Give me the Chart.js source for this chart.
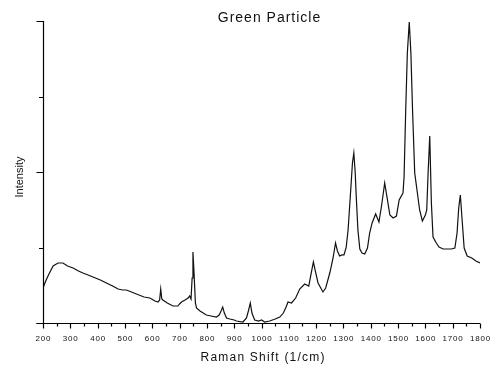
<!DOCTYPE html>
<html>
<head>
<meta charset="utf-8">
<script src="https://cdn.jsdelivr.net/npm/chart.js@4/dist/chart.umd.min.js"></script>
<style>
  html, body { margin: 0; padding: 0; background: #fff; }
  #wrap { width: 490px; height: 365px; position: relative; }
</style>
</head>
<body>
<div id="wrap"><canvas id="c"></canvas></div>
<script>
// Raman spectrum of the green particle (arbitrary intensity units)
const titleText = 'Green Particle';
const xTitle = 'Raman Shift (1/cm)';
const yTitle = 'Intensity';

const ramanShift = [
  200, 210, 220, 237, 255, 273, 290, 310, 330, 346, 365, 383, 410, 432, 455, 475,
  492, 505, 515, 542, 570, 591, 610, 621, 627, 631, 635, 639, 655, 676, 694, 700,
  707, 720, 731, 737, 742, 746, 749, 753, 758, 762, 775, 798, 815, 835, 845, 852,
  858, 864, 872, 884, 900, 908, 932, 945, 952, 959, 965, 975, 990, 1000, 1012, 1030,
  1050, 1067, 1080, 1090, 1097, 1110, 1125, 1140, 1158, 1173, 1182, 1190, 1197, 1207, 1215, 1225,
  1235, 1250, 1262, 1271, 1278, 1286, 1295, 1302, 1310, 1317, 1325, 1333, 1338, 1343, 1347, 1353,
  1360, 1368, 1378, 1388, 1396, 1405, 1418, 1430, 1440, 1451, 1460, 1470, 1482, 1494, 1504, 1518,
  1522, 1528, 1534, 1541, 1547, 1553, 1561, 1579, 1589, 1600, 1605, 1610, 1616, 1622, 1628, 1640,
  1650, 1665, 1680, 1695, 1708, 1716, 1722, 1728, 1734, 1742, 1753, 1770, 1785, 1800
];

const intensity = [
  464, 556, 636, 755, 795, 795, 755, 728, 689, 662, 636, 609, 570, 530, 490, 450,
  437, 437, 424, 384, 344, 331, 291, 278, 305, 450, 318, 305, 265, 225, 225, 252,
  278, 305, 331, 358, 318, 596, 940, 662, 265, 199, 159, 106, 93, 79, 106, 159,
  212, 132, 66, 53, 40, 26, 13, 66, 159, 265, 132, 40, 26, 40, 13, 26,
  53, 79, 132, 212, 278, 265, 331, 450, 517, 490, 662, 808, 689, 530, 477, 411,
  464, 662, 861, 1060, 954, 887, 901, 901, 1000, 1232, 1669, 2119, 2252, 2000, 1669, 1232,
  980, 927, 914, 993, 1192, 1325, 1444, 1338, 1563, 1854, 1656, 1430, 1391, 1417, 1629, 1722,
  1934, 2821, 3576, 3987, 3576, 2821, 1987, 1497, 1351, 1430, 1497, 1987, 2477, 1589, 1139, 1060,
  1007, 980, 980, 980, 993, 1192, 1523, 1695, 1391, 993, 887, 861, 821, 795
];

// Axis ticks: x every 50 (labelled every 100), y every 1000 (long ticks every 2000)
const xTicks = [200, 250, 300, 350, 400, 450, 500, 550, 600, 650, 700, 750, 800, 850, 900, 950,
  1000, 1050, 1100, 1150, 1200, 1250, 1300, 1350, 1400, 1450, 1500, 1550, 1600, 1650, 1700, 1750, 1800];
const xTickLabels = ['200', '300', '400', '500', '600', '700', '800', '900', '1000',
  '1100', '1200', '1300', '1400', '1500', '1600', '1700', '1800'];
const yTicks = [0, 1000, 2000, 3000, 4000];

const FONT = '"Liberation Sans", Arial, Helvetica, sans-serif';

function spacedText(ctx, text, x, y, spacing, align) {
  if ('letterSpacing' in ctx) {
    ctx.letterSpacing = spacing + 'px';
    const w = ctx.measureText(text).width - spacing;
    let sx = x;
    if (align === 'center') sx = x - w / 2;
    else if (align === 'right') sx = x - w;
    ctx.textAlign = 'left';
    ctx.fillText(text, sx, y);
    ctx.letterSpacing = '0px';
  } else {
    ctx.textAlign = align;
    ctx.fillText(text, x, y);
  }
}

const axesPlugin = {
  id: 'plotAxes',
  afterDraw(chart) {
    const ctx = chart.ctx;
    const xs = chart.scales.x, ys = chart.scales.y;
    const area = chart.chartArea;
    ctx.save();
    ctx.strokeStyle = '#000';
    ctx.fillStyle = '#111';
    ctx.lineWidth = 1.2;
    ctx.lineCap = 'butt';

    const y0 = Math.round(ys.getPixelForValue(0)) + 0.5;
    const x0 = Math.round(xs.getPixelForValue(200)) + 0.5;

    // axis lines
    ctx.beginPath();
    ctx.moveTo(x0 - 7, y0);
    ctx.lineTo(xs.getPixelForValue(1800), y0);
    ctx.moveTo(x0, y0);
    ctx.lineTo(x0, ys.getPixelForValue(4000));
    ctx.stroke();

    // x ticks
    ctx.beginPath();
    xTicks.forEach(v => {
      const px = Math.round(xs.getPixelForValue(v)) + 0.5;
      const len = (v % 100 === 0) ? 5 : 3;
      ctx.moveTo(px, y0);
      ctx.lineTo(px, y0 + len);
    });
    // y ticks
    yTicks.forEach(v => {
      const py = Math.round(ys.getPixelForValue(v)) + 0.5;
      const len = (v % 2000 === 0) ? 7 : 4.5;
      ctx.moveTo(x0, py);
      ctx.lineTo(x0 - len, py);
    });
    ctx.stroke();

    // x tick labels
    ctx.font = '8px ' + FONT;
    ctx.textBaseline = 'alphabetic';
    xTickLabels.forEach(t => {
      const px = xs.getPixelForValue(Number(t));
      spacedText(ctx, t, px, y0 + 17, 0.8, 'center');
    });

    // axis titles
    ctx.font = '12px ' + FONT;
    spacedText(ctx, xTitle, (area.left + area.right) / 2 + 1, 361, 1.2, 'center');

    ctx.save();
    ctx.translate(23, (area.top + area.bottom) / 2 + 5);
    ctx.rotate(-Math.PI / 2);
    ctx.font = '11px ' + FONT;
    spacedText(ctx, yTitle, 0, 0, 0, 'center');
    ctx.restore();

    // chart title
    ctx.font = '14px ' + FONT;
    spacedText(ctx, titleText, 269, 22, 1, 'center');

    ctx.restore();
  }
};

const points = ramanShift.map((x, i) => ({ x: x, y: intensity[i] }));

new Chart(document.getElementById('c'), {
  type: 'line',
  data: {
    datasets: [{
      data: points,
      borderColor: '#111',
      borderWidth: 1.2,
      pointRadius: 0,
      tension: 0,
      fill: false
    }]
  },
  options: {
    responsive: true,
    maintainAspectRatio: false,
    animation: false,
    layout: { padding: { left: 43, right: 10, top: 21, bottom: 42 } },
    plugins: { legend: { display: false }, tooltip: { enabled: false }, title: { display: false } },
    scales: {
      x: { type: 'linear', min: 200, max: 1800, display: false },
      y: { type: 'linear', min: 0, max: 4000, display: false }
    }
  },
  plugins: [axesPlugin]
});
</script>
</body>
</html>
